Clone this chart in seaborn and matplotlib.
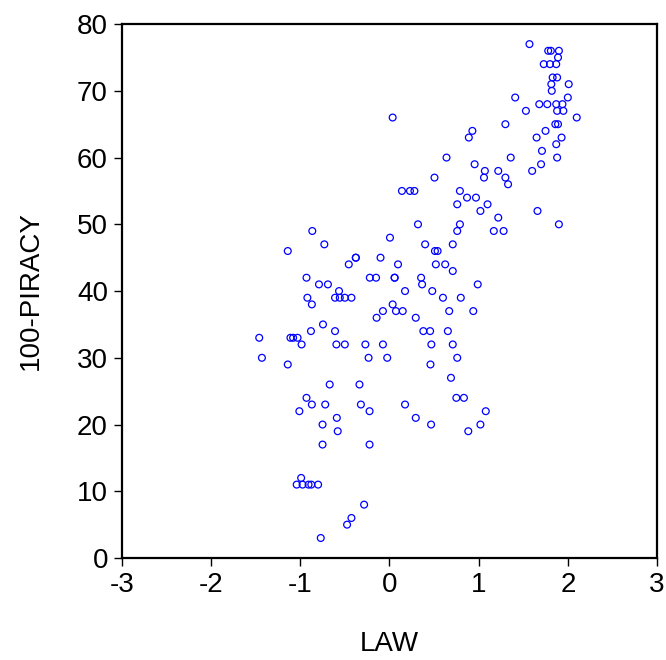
import matplotlib
matplotlib.use("Agg")
import matplotlib.pyplot as plt
import seaborn as sns
import pandas as pd

# LAW index values
law = [
    1.57, 1.78, 1.81, 1.90, 1.89, 1.73, 1.80, 1.87, 1.83, 1.88,
    1.815, 2.01, 1.82, 1.41, 2.00, 1.68, 1.77, 1.87, 1.94, 1.53,
    1.88, 1.95, 2.10, 1.30, 1.86, 1.89, 1.75, 1.65, 1.93, 1.87,
    1.71, 1.36, 1.88, 1.70, 1.60, 1.22, 1.30, 1.33, 1.66, 1.22,
    1.90, 1.28, 1.17,
    0.036, 0.93, 0.89, 0.64, 0.955, 1.07, 0.505, 1.06, 0.14, 0.23,
    0.28, 0.79, 0.87, 0.97, 0.76, 1.10, 1.02, 0.32, 0.79, 0.76,
    0.006, 0.40, 0.71, 0.51, 0.54, -0.10, 0.096, 0.52, 0.625, 0.71,
    0.058, 0.058, 0.355, 0.366, 0.99, 0.175, 0.48, 0.60, 0.80, 0.036,
    -0.073, 0.073, 0.149, 0.67, 0.94, 0.295, 0.38, 0.456, 0.655, -0.073,
    0.47, 0.71, -0.025, 0.76, 0.46, 0.69, 0.75, 0.835, 0.175, 1.08,
    0.295, 0.467, 1.02, 0.884,
    -0.865, -0.73, -1.14, -0.377, -0.377, -0.456, -0.93, -0.22, -0.15, -0.79,
    -0.69, -0.565, -0.92, -0.61, -0.557, -0.50, -0.426, -0.87, -0.144, -0.745,
    -0.88, -0.61, -1.11, -1.08, -1.03, -1.46, -0.985, -0.595, -0.50, -0.27,
    -0.234, -1.43, -1.14, -0.67, -0.336, -0.93, -0.87, -0.72, -0.32, -1.01,
    -0.223, -0.59, -0.75, -0.58, -0.75, -0.223, -0.99, -1.04, -0.974, -0.907,
    -0.876, -0.80, -0.284, -0.426, -0.475, -0.77,
]

# 100 - PIRACY values
piracy_inv = [
    77, 76, 76, 76, 75, 74, 74, 74, 72, 72,
    71, 71, 70, 69, 69, 68, 68, 68, 68, 67,
    67, 67, 66, 65, 65, 65, 64, 63, 63, 62,
    61, 60, 60, 59, 58, 58, 57, 56, 52, 51,
    50, 49, 49,
    66, 64, 63, 60, 59, 58, 57, 57, 55, 55,
    55, 55, 54, 54, 53, 53, 52, 50, 50, 49,
    48, 47, 47, 46, 46, 45, 44, 44, 44, 43,
    42, 42, 42, 41, 41, 40, 40, 39, 39, 38,
    37, 37, 37, 37, 37, 36, 34, 34, 34, 32,
    32, 32, 30, 30, 29, 27, 24, 24, 23, 22,
    21, 20, 20, 19,
    49, 47, 46, 45, 45, 44, 42, 42, 42, 41,
    41, 40, 39, 39, 39, 39, 39, 38, 36, 35,
    34, 34, 33, 33, 33, 33, 32, 32, 32, 32,
    30, 30, 29, 26, 26, 24, 23, 23, 23, 22,
    22, 21, 20, 19, 17, 17, 12, 11, 11, 11,
    11, 11, 8, 6, 5, 3,
]

x_ticks = [-3, -2, -1, 0, 1, 2, 3]
y_ticks = [0, 10, 20, 30, 40, 50, 60, 70, 80]

df = pd.DataFrame({"LAW": law, "100-PIRACY": piracy_inv})

sns.set_style("ticks")
plt.rcParams["font.family"] = ["Liberation Sans", "DejaVu Sans"]

fig = plt.figure(figsize=(6.66, 6.60), dpi=100)
ax = fig.add_axes([0.183, 0.1545, 0.8035, 0.809])

sns.scatterplot(data=df, x="LAW", y="100-PIRACY", ax=ax,
                marker="o", s=24, facecolors="none", edgecolor="#0000ff",
                linewidth=0.9)

ax.set_xlim(-3, 3)
ax.set_ylim(0, 80)
ax.set_xticks(x_ticks)
ax.set_yticks(y_ticks)
ax.set_xticklabels([str(t) for t in x_ticks])
ax.set_yticklabels([str(t) for t in y_ticks])

for sp in ax.spines.values():
    sp.set_visible(True)
    sp.set_color("black")
    sp.set_linewidth(1.6)

ax.tick_params(axis="both", direction="out", length=6, width=1,
               labelsize=20, color="black", labelcolor="black", pad=4)
ax.set_xlabel("LAW", fontsize=20, labelpad=24, color="black")
ax.set_ylabel("100-PIRACY", fontsize=20, labelpad=24, color="black")

fig.savefig("out.png", dpi=100)
